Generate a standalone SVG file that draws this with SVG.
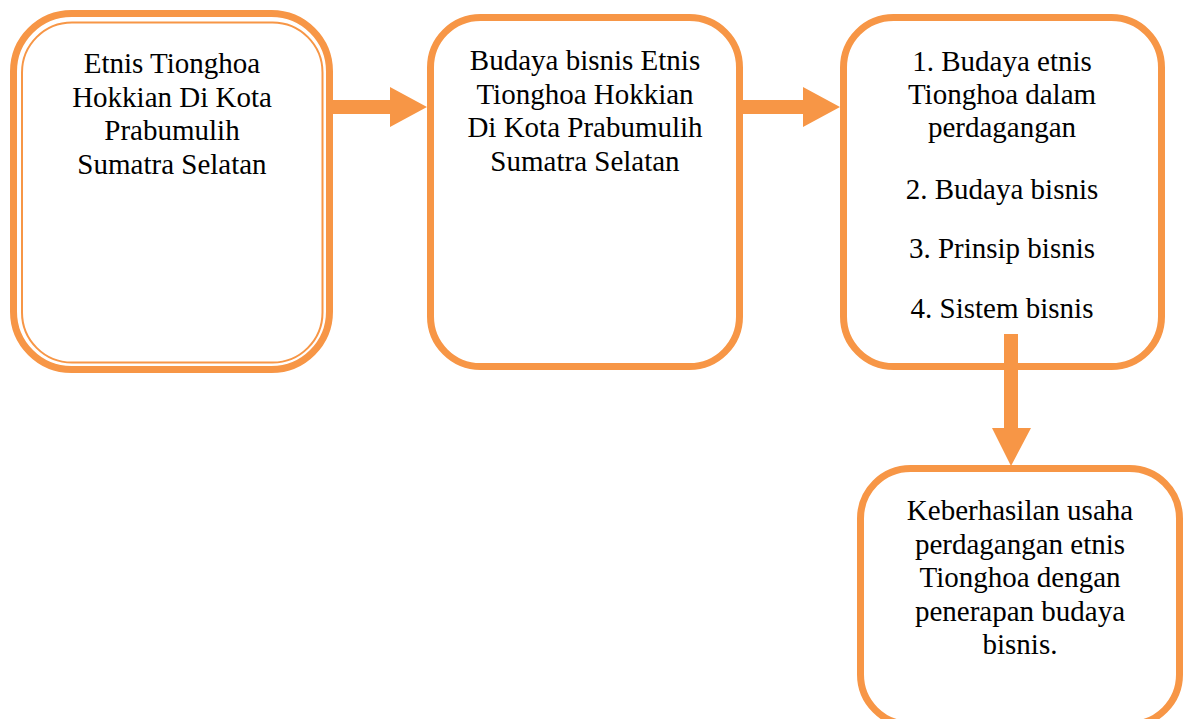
<svg xmlns="http://www.w3.org/2000/svg" width="1188" height="719" viewBox="0 0 1188 719">
<style>
.box{fill:#ffffff;stroke:#F79646;stroke-width:7}
.thin{fill:none;stroke:#F79646;stroke-width:2}
.arrow{fill:#F79646;stroke:none}
text{font-family:"Liberation Serif","Times New Roman",serif;font-size:29px;fill:#000000;text-anchor:middle}
</style>
<rect width="1188" height="719" fill="#ffffff"/>
<g id="node1">
<rect class="box" x="13.5" y="13.5" width="316" height="356" rx="58" ry="58"/>
<rect class="thin" x="22" y="22.5" width="300.5" height="340" rx="50" ry="50"/>
<text x="172" y="73">Etnis Tionghoa</text>
<text x="172" y="106.5">Hokkian Di Kota</text>
<text x="172" y="140">Prabumulih</text>
<text x="172" y="173.5">Sumatra Selatan</text>
</g>
<g id="node2">
<rect class="box" x="430.5" y="17.5" width="309" height="349" rx="50" ry="50"/>
<text x="585" y="70">Budaya bisnis Etnis</text>
<text x="585" y="103.5">Tionghoa Hokkian</text>
<text x="585" y="137">Di Kota Prabumulih</text>
<text x="585" y="170.5">Sumatra Selatan</text>
</g>
<g id="node3">
<rect class="box" x="843.5" y="17.5" width="318" height="349" rx="50" ry="50"/>
<text x="1002" y="71">1. Budaya etnis</text>
<text x="1002" y="104">Tionghoa dalam</text>
<text x="1002" y="137">perdagangan</text>
<text x="1002" y="199">2. Budaya bisnis</text>
<text x="1002" y="258">3. Prinsip bisnis</text>
<text x="1002" y="318">4. Sistem bisnis</text>
</g>
<g id="node4">
<rect class="box" x="860.5" y="468.5" width="319" height="256" rx="50" ry="50"/>
<text x="1020" y="520">Keberhasilan usaha</text>
<text x="1020" y="553.5">perdagangan etnis</text>
<text x="1020" y="587">Tionghoa dengan</text>
<text x="1020" y="620.5">penerapan budaya</text>
<text x="1020" y="654">bisnis.</text>
</g>
<g id="connectors">
<polygon class="arrow" points="333,100 390,100 390,87 427,107 390,127 390,114 333,114"/>
<polygon class="arrow" points="743,100 803,100 803,87 840,107 803,127 803,114 743,114"/>
<polygon class="arrow" points="1004,334 1018,334 1018,428 1031,428 1011,466 992,428 1004,428"/>
</g>
</svg>
